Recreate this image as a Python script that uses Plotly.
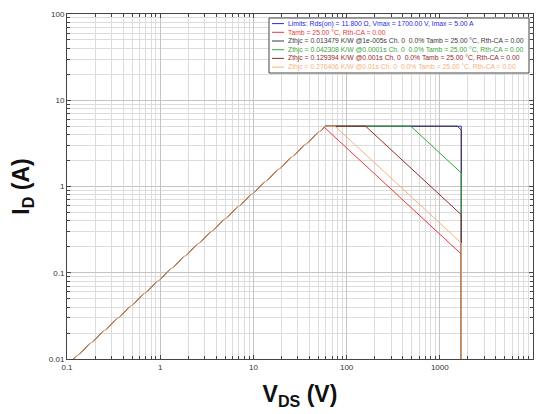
import math
import plotly.graph_objects as go

# ---- data ----
rds_on = 11.8          # ohm
v_max = 1700.0         # V
i_max = 5.0            # A
i_floor = 0.01         # bottom of the plotted current range
v_start = 0.1          # left edge of the plotted voltage range

curve_names = [
    "Tamb = 25.00 °C, Rth-CA = 0.00",
    "Zthjc = 0.013479 K/W @1e-005s Ch. 0  0.0% Tamb = 25.00 °C, Rth-CA = 0.00",
    "Zthjc = 0.042308 K/W @0.0001s Ch. 0  0.0% Tamb = 25.00 °C, Rth-CA = 0.00",
    "Zthjc = 0.129394 K/W @0.001s Ch. 0  0.0% Tamb = 25.00 °C, Rth-CA = 0.00",
    "Zthjc = 0.276406 K/W @0.01s Ch. 0  0.0% Tamb = 25.00 °C, Rth-CA = 0.00",
]
curve_power = [280.0, 7700.0, 2440.0, 800.0, 376.0]
curve_colors = ["#e8383b", "#3a3a3a", "#3aa53a", "#8e2a2a", "#f4b27c"]

limits_name = "Limits: Rds(on) = 11.800 Ω, Vmax = 1700.00 V, Imax = 5.00 A"
limits_color = "#2a2ae0"

# ---- layout geometry (pixels) ----
W, H = 540, 414
ML, MR, MT, MB = 67, 7, 14, 55
PW, PH = W - ML - MR, H - MT - MB


def px_x(x):
    return (x - ML) / PW


def px_y(y):
    return (H - MB - y) / PH


def soa_curve(power):
    """Corner points of one SOA boundary: Rds(on) line, current limit,
    constant-power line and the Vmax limit."""
    v_knee = i_max * rds_on
    if power is None:
        return ([v_start, v_knee, v_max, v_max],
                [v_start / rds_on, i_max, i_max, i_floor])
    v_p = math.sqrt(power * rds_on)
    if v_p <= v_knee:
        return ([v_start, v_p, v_max, v_max],
                [v_start / rds_on, v_p / rds_on, power / v_max, i_floor])
    v_h = min(power / i_max, v_max)
    return ([v_start, v_knee, v_h, v_max, v_max],
            [v_start / rds_on, i_max, i_max, min(power / v_max, i_max), i_floor])


fig = go.Figure()

all_names = [limits_name] + curve_names
all_colors = [limits_color] + curve_colors
all_power = [None] + curve_power

for name, p, c in zip(all_names, all_power, all_colors):
    cv, ci = soa_curve(p)
    fig.add_trace(go.Scatter(x=cv, y=ci, mode="lines",
                             line=dict(color=c, width=1),
                             name=name, showlegend=False))

axis_common = dict(
    type="log",
    tickmode="linear",
    dtick=1,
    exponentformat="none",
    ticks="inside",
    ticklen=4,
    tickcolor="#444",
    showline=True,
    linecolor="#444",
    linewidth=1,
    mirror="ticks",
    showgrid=True,
    gridcolor="#c4c4c4",
    gridwidth=1,
    zeroline=False,
    tickfont=dict(family="Liberation Sans, Arial", size=8, color="#333"),
    minor=dict(dtick="D1", ticks="inside", ticklen=3, tickcolor="#444",
               showgrid=True, gridcolor="#dcdcdc", gridwidth=1),
)

fig.update_xaxes(**axis_common, range=[-1, 4],
                 title=dict(text="<b>V<sub>DS</sub> (V)</b>",
                            font=dict(family="Liberation Sans, Arial", size=23, color="#111"),
                            standoff=15))
fig.update_yaxes(**axis_common, range=[-2, 2],
                 title=dict(text="<b>I<sub>D</sub> (A)</b>",
                            font=dict(family="Liberation Sans, Arial", size=23, color="#111"),
                            standoff=12))

# ---- hand-built legend box (compact, like the reference) ----
box_l, box_r, box_t, box_b = 269, 529, 18, 73
row0, row_step = 23.6, 8.7
sample_l, sample_r, text_l = 272, 284, 286

shapes = [dict(type="rect", xref="paper", yref="paper",
               x0=px_x(box_l), x1=px_x(box_r), y0=px_y(box_b), y1=px_y(box_t),
               line=dict(color="#444", width=1), fillcolor="white", layer="above")]
annotations = []
for k, (name, c) in enumerate(zip(all_names, all_colors)):
    yy = row0 + k * row_step
    shapes.append(dict(type="line", xref="paper", yref="paper",
                       x0=px_x(sample_l), x1=px_x(sample_r),
                       y0=px_y(yy), y1=px_y(yy),
                       line=dict(color=c, width=1), layer="above"))
    annotations.append(dict(xref="paper", yref="paper", x=px_x(text_l), y=px_y(yy),
                            xanchor="left", yanchor="middle", showarrow=False,
                            text=name, font=dict(family="Liberation Sans, Arial",
                                                 size=6.8, color=c)))

fig.update_layout(
    width=W, height=H,
    margin=dict(l=ML, r=MR, t=MT, b=MB),
    paper_bgcolor="white",
    plot_bgcolor="white",
    showlegend=False,
    shapes=shapes,
    annotations=annotations,
    font=dict(family="Liberation Sans, Arial"),
)

fig.write_html("out.html", config={"displayModeBar": False},
               post_script="document.body.style.margin='0';document.body.style.padding='0';")
